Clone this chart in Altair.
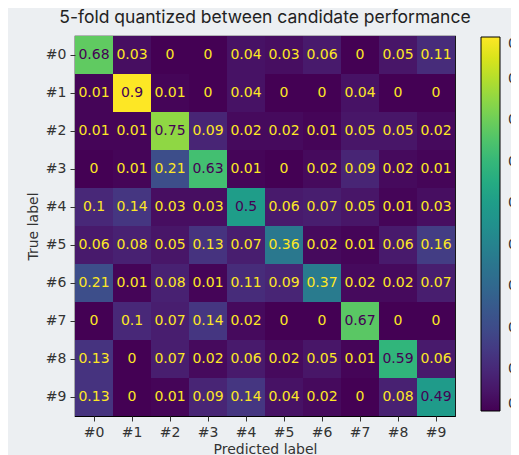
import altair as alt
import pandas as pd

labels = ["#0", "#1", "#2", "#3", "#4", "#5", "#6", "#7", "#8", "#9"]

row0 = [0.68, 0.03, 0, 0, 0.04, 0.03, 0.06, 0, 0.05, 0.11]
row1 = [0.01, 0.9, 0.01, 0, 0.04, 0, 0, 0.04, 0, 0]
row2 = [0.01, 0.01, 0.75, 0.09, 0.02, 0.02, 0.01, 0.05, 0.05, 0.02]
row3 = [0, 0.01, 0.21, 0.63, 0.01, 0, 0.02, 0.09, 0.02, 0.01]
row4 = [0.1, 0.14, 0.03, 0.03, 0.5, 0.06, 0.07, 0.05, 0.01, 0.03]
row5 = [0.06, 0.08, 0.05, 0.13, 0.07, 0.36, 0.02, 0.01, 0.06, 0.16]
row6 = [0.21, 0.01, 0.08, 0.01, 0.11, 0.09, 0.37, 0.02, 0.02, 0.07]
row7 = [0, 0.1, 0.07, 0.14, 0.02, 0, 0, 0.67, 0, 0]
row8 = [0.13, 0, 0.07, 0.02, 0.06, 0.02, 0.05, 0.01, 0.59, 0.06]
row9 = [0.13, 0, 0.01, 0.09, 0.14, 0.04, 0.02, 0, 0.08, 0.49]

colorbar_ticks = [0, 0.1, 0.2, 0.3, 0.4, 0.5, 0.6, 0.7, 0.8, 0.9]

rows = [row0, row1, row2, row3, row4, row5, row6, row7, row8, row9]
records = []
for i, r in enumerate(rows):
    for j, v in enumerate(r):
        records.append({"true": labels[i], "pred": labels[j], "value": v, "text": f"{v:g}"})
df = pd.DataFrame(records)

x_enc = alt.X("pred:O", sort=labels, scale=alt.Scale(paddingInner=0, paddingOuter=0),
              axis=alt.Axis(title="Predicted label", labelAngle=0, labelPadding=4, tickSize=5,
                            titlePadding=3))
y_enc = alt.Y("true:O", sort=labels, scale=alt.Scale(paddingInner=0, paddingOuter=0),
              axis=alt.Axis(title="True label", labelPadding=4, tickSize=5, titlePadding=5))

heat = alt.Chart(df).mark_rect().encode(
    x=x_enc,
    y=y_enc,
    color=alt.Color("value:Q",
                    scale=alt.Scale(scheme="viridis", domain=[0, 0.9]),
                    legend=alt.Legend(orient="none", legendX=406, legendY=1, title=None,
                                      padding=0,
                                      gradientLength=374, gradientThickness=19,
                                      gradientStrokeColor="black", gradientStrokeWidth=1,
                                      values=colorbar_ticks, format=".1f", labelOffset=8,
                                      labelBaseline="middle", labelOverlap=False,
                                      labelFontSize=14, labelColor="#333",
                                      labelFont="DejaVu Sans", direction="vertical")),
)

text = alt.Chart(df).mark_text(fontSize=14, font="DejaVu Sans").encode(
    x=alt.X("pred:O", sort=labels),
    y=alt.Y("true:O", sort=labels),
    text="text:N",
    color=alt.condition("datum.value > 0.45", alt.value("#440154"), alt.value("#fde725")),
)

chart = (heat + text).properties(
    width=380, height=380,
    padding={"left": 67, "top": 28, "right": 56, "bottom": 39},
    autosize=alt.AutoSizeParams(type="none"),
    background="#eceff2",
    title=alt.Title("5-fold quantized between candidate performance", fontSize=17.5,
                    font="Inter", fontWeight="normal", color="#222", anchor="middle", offset=10),
).configure_view(stroke="black", strokeWidth=1.2).configure_axis(
    grid=False, domain=False, labelFont="DejaVu Sans", labelFontSize=14, labelColor="#333",
    titleFont="DejaVu Sans", titleFontSize=14, titleFontWeight="normal", titleColor="#333",
    tickColor="#333",
)

chart.save("out.html", embed_options={"renderer": "svg", "actions": False})
